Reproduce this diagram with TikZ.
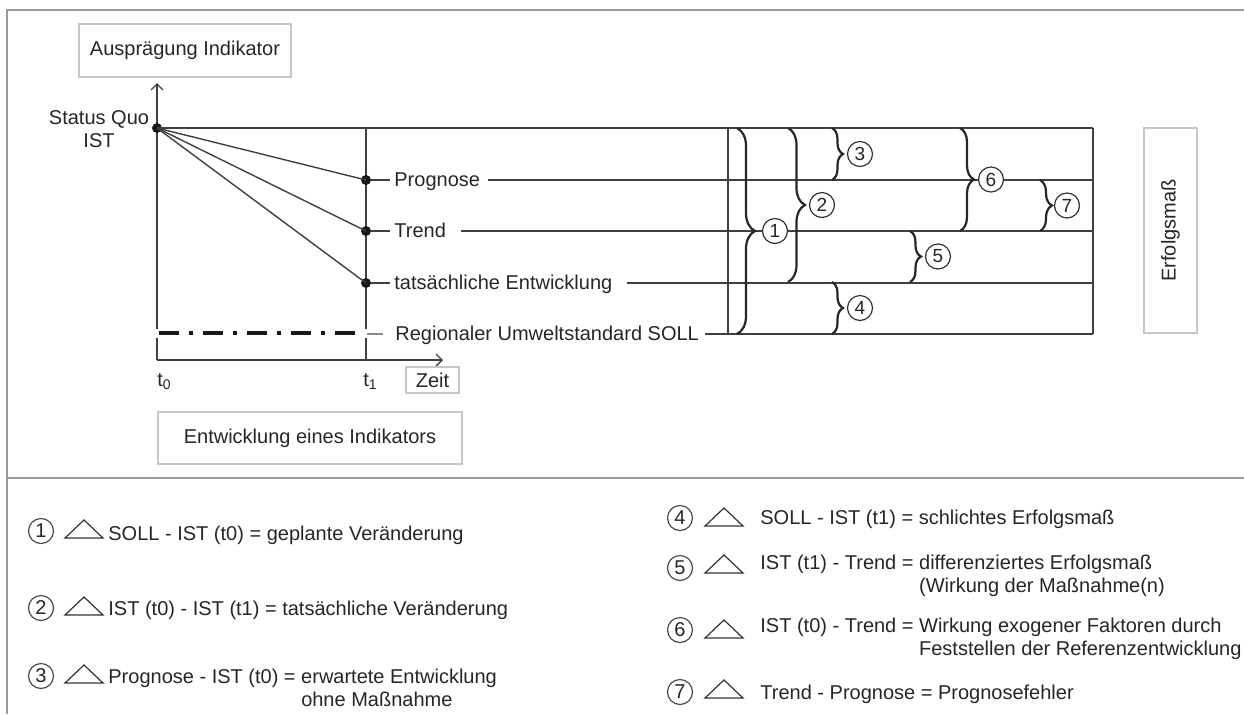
\documentclass[tikz,border=0pt]{standalone}
\usepackage{fontspec}
\setmainfont{Liberation Sans}
\usetikzlibrary{arrows.meta,decorations.pathreplacing}

\begin{document}
\begin{tikzpicture}[
   x=0.5pt, y=-0.5pt,
   font=\fontsize{10}{11.5}\selectfont,
   every node/.style={text=black!85},
   thinline/.style={draw=black!75, line width=0.7pt},
   frameline/.style={draw=black!40, line width=1pt},
   dot/.style={circle, fill=black!90, inner sep=0pt, minimum size=5pt},
   lbl/.style={anchor=west, inner xsep=2pt, inner ysep=0pt, text height=1.6ex, text depth=.4ex},
   greybox/.style={draw=black!22, line width=0.8pt, inner sep=0pt, align=center},
   num/.style={circle, draw=black!80, line width=0.6pt, fill=white, inner sep=0pt,
               minimum size=12.5pt, font=\fontsize{9.5}{10}\selectfont},
   curly/.style={decorate, decoration={brace, amplitude=#1}, draw=black!85, line width=1.1pt},
   curly/.default=6pt,
   axis/.style={thinline, -{Straight Barb[length=3pt, width=6pt]}},
   legend/.style={anchor=base west, inner sep=0pt}
]
\useasboundingbox (0,0) rectangle (1244,714);

% outer frame and separator
\draw[frameline] (1244,10) -- (7,10) -- (7,714);
\draw[frameline] (7,478) -- (1244,478);

% axes
\coordinate (o) at (157,360);
\coordinate (ytop) at (157,83);
\coordinate (xend) at (443,360);
\coordinate (t1top) at (366,128);
\coordinate (t1bot) at (366,360);
\draw[axis] (o) -- (ytop);
\draw[axis] (o) -- (xend);
\draw[thinline] (t1top) -- (t1bot);

\node[greybox, minimum width=106pt, minimum height=26.5pt] (auspr) at (185,50.5) {Ausprägung Indikator};
\node[greybox, minimum width=26.5pt, minimum height=13pt] (zeit) at (432.5,380) {Zeit};
\node[greybox, minimum width=152pt, minimum height=26pt] (entw) at (310,438) {Entwicklung eines Indikators};
\node[anchor=north west, inner sep=0pt] (t0) at (157,373) {t\textsubscript{0}};
\node[anchor=north west, inner sep=0pt] (t1) at (363,373) {t\textsubscript{1}};

% status quo and the three developments
\node[dot] (sq) at (157,128) {};
\node[align=center, inner sep=0pt] (sqtxt) at (99,129) {Status Quo\\IST};
\node[dot] (prog) at (366,180) {};
\node[dot] (trend) at (366,231) {};
\node[dot] (ist) at (366,283) {};
\coordinate (soll) at (366,334);

\node[lbl] (progtxt) at (390,180) {Prognose};
\node[lbl] (trendtxt) at (390,231) {Trend};
\node[lbl] (isttxt) at (390,283) {tatsächliche Entwicklung};
\node[lbl] (solltxt) at (391,334) {Regionaler Umweltstandard SOLL};

\coordinate (topL) at (728,128);
\coordinate (botL) at (728,334);
\coordinate (topR) at (1093,128);
\coordinate (progR) at (1093,180);
\coordinate (trendR) at (1093,231);
\coordinate (istR) at (1093,283);
\coordinate (sollR) at (1093,334);

\draw[thinline] (sq.center) -- (prog.center);
\draw[thinline] (sq.center) -- (trend.center);
\draw[thinline] (sq.center) -- (ist.center);
\draw[thinline] (sq.center) -- (topR);

\draw[thinline] (prog) -- (progtxt.west);
\draw[thinline] ([xshift=2pt]progtxt.east) -- (progR);
\draw[thinline] (trend) -- (trendtxt.west);
\draw[thinline] ([xshift=5.5pt]trendtxt.east) -- (trendR);
\draw[thinline] (ist) -- (isttxt.west);
\draw[thinline] ([xshift=5pt]isttxt.east) -- (istR);
\draw[thinline] ([xshift=1pt]solltxt.east) -- (sollR);
\draw[thinline] (topL) -- (botL);
\draw[thinline] (topR) -- (sollR);

% SOLL level, dash-dotted
\draw[white, line width=4.5pt] (151,333) -- (371,333);
\draw[black!90, line width=2pt, dash pattern=on 10pt off 5pt on 2pt off 5pt] (159,333) -- (355,333);
\draw[draw=black!45, line width=0.6pt] ([xshift=0.5pt]soll) -- ([xshift=-4pt]solltxt.west);

% braces with their numbers
\foreach \n/\x/\ya/\yb/\amp/\cx in {1/737/128/334/9/775, 2/788/128/282/8.5/822,
      3/832/128/180/5.5/860, 4/832/282/334/5.5/860, 5/910/231/282/5.5/938,
      6/960/128/231/7/991, 7/1040/180/231/6/1067}
{
  \draw[curly=\amp pt] (\x,\ya) -- (\x,\yb);
  \node[num] (c\n) at (\cx,{(\ya+\yb)/2}) {\n};
}

\node[greybox, rotate=90, minimum width=102.5pt, minimum height=26.5pt] (erfolg) at (1170.5,230.5) {Erfolgsmaß};

% legend
\foreach \n/\x/\y in {1/41/531, 2/41/608, 3/41/676, 4/680/518, 5/680/568, 6/680/630, 7/680/692}
  \node[num, draw=black!70, minimum size=12.5pt, font=\fontsize{10}{10}\selectfont] (leg\n) at (\x,\y) {\n};
\foreach \x/\y in {84/529, 84/606, 84/674, 724/517, 724/564, 724/629, 724/689}
  \draw[draw=black!80, line width=0.6pt] (\x-19,\y+9) -- (\x,\y-9) -- (\x+19,\y+9) -- cycle;

\node[legend] (txt1) at (108,540) {SOLL - IST (t0) = geplante Veränderung};
\node[legend] (txt2) at (108,615) {IST (t0) - IST (t1) = tatsächliche Veränderung};
\node[legend] (txt3) at (108,683) {Prognose - IST (t0) = \begin{tabular}[t]{@{}l@{}}erwartete Entwicklung\\ohne Maßnahme\end{tabular}};
\node[legend] (txt4) at (760,524) {SOLL - IST (t1) = schlichtes Erfolgsmaß};
\node[legend] (txt5) at (760,569) {IST (t1) - Trend = \begin{tabular}[t]{@{}l@{}}differenziertes Erfolgsmaß\\(Wirkung der Maßnahme(n)\end{tabular}};
\node[legend] (txt6) at (760,632) {IST (t0) - Trend = \begin{tabular}[t]{@{}l@{}}Wirkung exogener Faktoren durch\\Feststellen der Referenzentwicklung\end{tabular}};
\node[legend] (txt7) at (760,699) {Trend - Prognose = Prognosefehler};
\end{tikzpicture}
\end{document}
